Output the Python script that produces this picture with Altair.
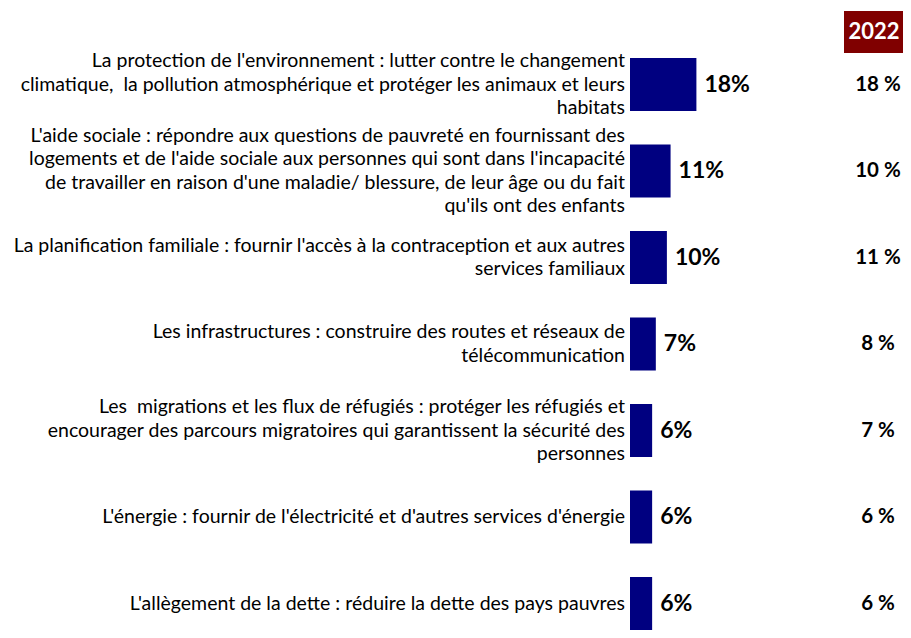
import altair as alt
import pandas as pd

categories = [
    "La protection de l'environnement : lutter contre le changement\nclimatique, \u00a0la pollution atmosphérique et protéger les animaux et leurs\nhabitats",
    "L'aide sociale : répondre aux questions de pauvreté en fournissant des\nlogements et de l'aide sociale aux personnes qui sont dans l'incapacité\nde travailler en raison d'une maladie/ blessure, de leur âge ou du fait\nqu'ils ont des enfants",
    "La planification familiale : fournir l'accès à la contraception et aux autres\nservices familiaux",
    "Les infrastructures : construire des routes et réseaux de\ntélécommunication",
    "Les \u00a0migrations et les flux de réfugiés : protéger les réfugiés et\nencourager des parcours migratoires qui garantissent la sécurité des\npersonnes",
    "L'énergie : fournir de l'électricité et d'autres services d'énergie",
    "L'allègement de la dette : réduire la dette des pays pauvres",
]
values_current = [18, 11, 10, 7, 6, 6, 6]
values_2022 = [18, 10, 11, 8, 7, 6, 6]
header = ["2022"]

LINE_H = 23.5

df = pd.DataFrame({"cat": categories, "v": values_current, "v2022": values_2022})
df["bar_label"] = df["v"].astype(str) + "%"
df["label_2022"] = df["v2022"].astype(str) + " %"
df["nlines"] = df["cat"].str.count("\n") + 1

yscale = alt.Scale(paddingInner=0.387, paddingOuter=0.1615, align=0.716)
y_main = alt.Y(
    "cat:N", sort=categories, scale=yscale,
    axis=alt.Axis(labels=False, ticks=False, title=None, domainColor="black",
                  domainWidth=1, grid=False),
)
y_plain = alt.Y("cat:N", sort=categories, axis=None)
xscale = alt.Scale(domain=[0, 74])

base = alt.Chart(df)

bars = base.mark_bar(color="#000080").encode(
    x=alt.X("v:Q", scale=xscale, axis=None),
    y=y_main,
)

bar_labels = base.mark_text(
    align="left", baseline="middle", dx=8, font="Lato", fontWeight="bold",
    fontSize=23, color="black",
).encode(x=alt.X("v:Q", scale=xscale, axis=None), y=y_plain, text="bar_label:N")

cat_layers = []
for n in sorted(df["nlines"].unique()):
    cat_layers.append(
        base.transform_filter(alt.datum.nlines == int(n))
        .mark_text(
            align="right", baseline="middle", lineBreak="\n", lineHeight=LINE_H,
            dy=-(int(n) - 1) * LINE_H / 2,
            font="Lato", fontSize=19.5, color="black",
        )
        .encode(x=alt.value(-5), y=y_plain, text="cat:N")
    )

col_2022 = base.mark_text(
    align="center", baseline="middle", font="Lato", fontWeight="bold",
    fontSize=20.5, color="black",
).encode(x=alt.value(248), y=y_plain, text="label_2022:N")

hdr = alt.Chart(pd.DataFrame({"h": header}))
hdr_box = hdr.mark_rect(color="#800000").encode(
    x=alt.value(214), x2=alt.value(273), y=alt.value(-27), y2=alt.value(15)
)
hdr_text = hdr.mark_text(
    align="center", baseline="middle", font="Lato", fontWeight="bold",
    fontSize=22, color="white",
).encode(x=alt.value(244), y=alt.value(-6), text="h:N")

chart = (
    alt.layer(bars, bar_labels, *cat_layers, col_2022, hdr_box, hdr_text)
    .properties(
        width=273, height=600, autosize="none",
        padding={"left": 622, "top": 30, "right": 0, "bottom": 0},
    )
    .configure_view(stroke=None)
)

chart.save("out.html", embed_options={"renderer": "svg", "actions": False})
